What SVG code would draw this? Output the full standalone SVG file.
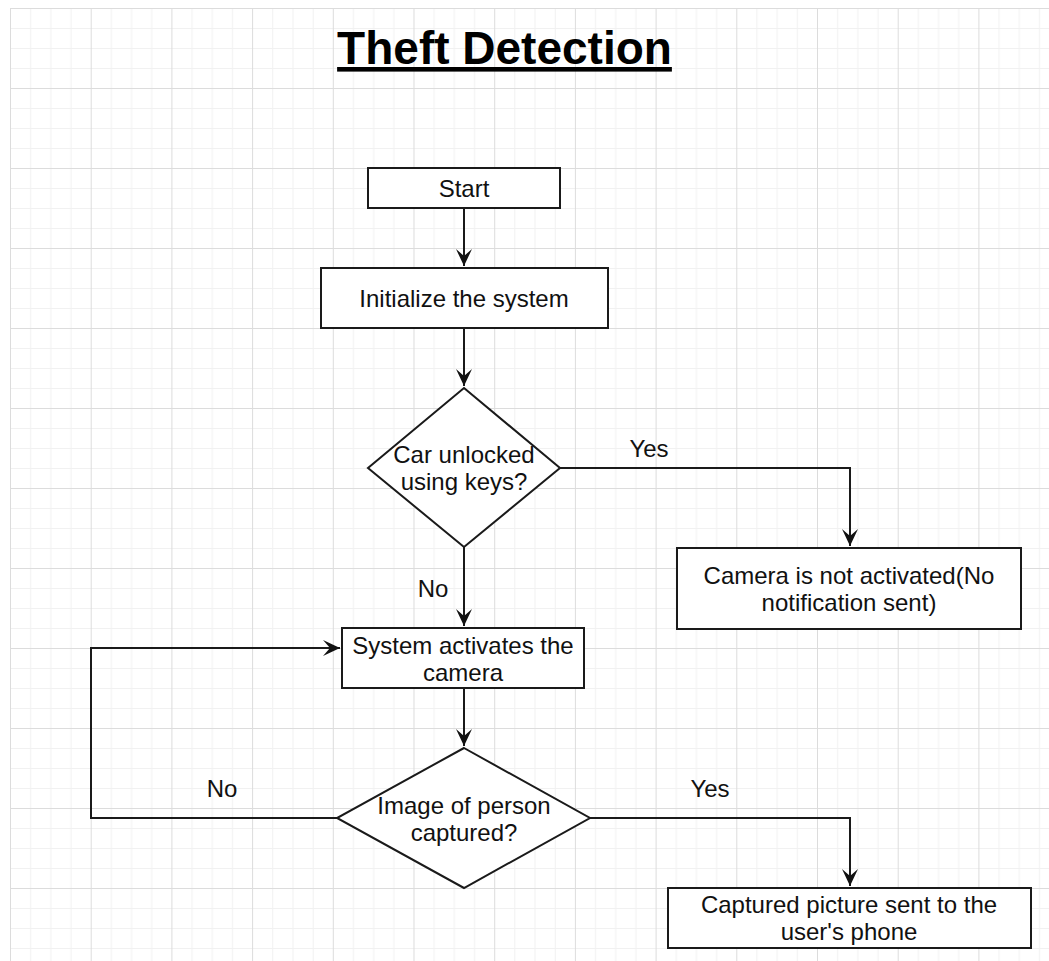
<svg xmlns="http://www.w3.org/2000/svg" width="1049" height="961" viewBox="0 0 1049 961">
<style>
.n{fill:#fff;stroke:#1a1a1a;stroke-width:2}
.t{font-family:"Liberation Sans",Arial,sans-serif;font-size:24px;fill:#111;text-anchor:middle}
.c{fill:none;stroke:#1a1a1a;stroke-width:2}
</style>
<defs>
<pattern id="grid" x="10" y="8" width="80.7" height="80" patternUnits="userSpaceOnUse">
<path d="M20.675 0V80M40.85 0V80M61.025 0V80M0 20.5H80.7M0 40.5H80.7M0 60.5H80.7" stroke="#f1f1f1" stroke-width="1"/>
<path d="M0.5 0V80M0 0.5H80.7" stroke="#dcdcdc" stroke-width="1"/>
</pattern>
<marker id="ar" viewBox="-18 -9 20 18" refX="0" refY="0" markerWidth="20" markerHeight="18" markerUnits="userSpaceOnUse" orient="auto">
<path d="M0 0L-17 -8L-10 0L-17 8Z" fill="#111"/>
</marker>
</defs>
<rect width="1049" height="961" fill="#fff"/>
<rect x="10" y="8" width="1039" height="953" fill="url(#grid)"/>
<g id="title"><text x="504.5" y="64" font-family="Liberation Sans,Arial,sans-serif" font-size="46" font-weight="bold" text-anchor="middle" text-decoration="underline" fill="#000">Theft Detection</text></g>
<g id="connectors">
<path class="c" d="M464 208V266" marker-end="url(#ar)"/>
<path class="c" d="M464 328V386" marker-end="url(#ar)"/>
<path class="c" d="M560 468H850V546" marker-end="url(#ar)"/>
<path class="c" d="M464 547V626" marker-end="url(#ar)"/>
<path class="c" d="M464 688V746" marker-end="url(#ar)"/>
<path class="c" d="M337 818H91V648H340" marker-end="url(#ar)"/>
<path class="c" d="M590 818H850V886" marker-end="url(#ar)"/>
<text class="t" x="649" y="457">Yes</text>
<text class="t" x="433" y="597">No</text>
<text class="t" x="222" y="797">No</text>
<text class="t" x="710" y="797">Yes</text>
</g>
<g id="start"><rect class="n" x="368" y="168" width="192" height="40"/><text class="t" x="464" y="197">Start</text></g>
<g id="init"><rect class="n" x="321" y="268" width="287" height="60"/><text class="t" x="464" y="307">Initialize the system</text></g>
<g id="dec1"><path class="n" d="M464 388L560 468L464 547L368 468Z"/><text class="t" x="464" y="463">Car unlocked</text><text class="t" x="464" y="490">using keys?</text></g>
<g id="camoff"><rect class="n" x="677" y="548" width="344" height="81"/><text class="t" x="849" y="584">Camera is not activated(No</text><text class="t" x="849" y="611">notification sent)</text></g>
<g id="camon"><rect class="n" x="342" y="628" width="242" height="60"/><text class="t" x="463" y="654">System activates the</text><text class="t" x="463" y="681">camera</text></g>
<g id="dec2"><path class="n" d="M464 748L590 818L464 888L337 818Z"/><text class="t" x="464" y="814">Image of person</text><text class="t" x="464" y="841">captured?</text></g>
<g id="sent"><rect class="n" x="668" y="888" width="363" height="60"/><text class="t" x="849" y="913">Captured picture sent to the</text><text class="t" x="849" y="940">user's phone</text></g>
</svg>
